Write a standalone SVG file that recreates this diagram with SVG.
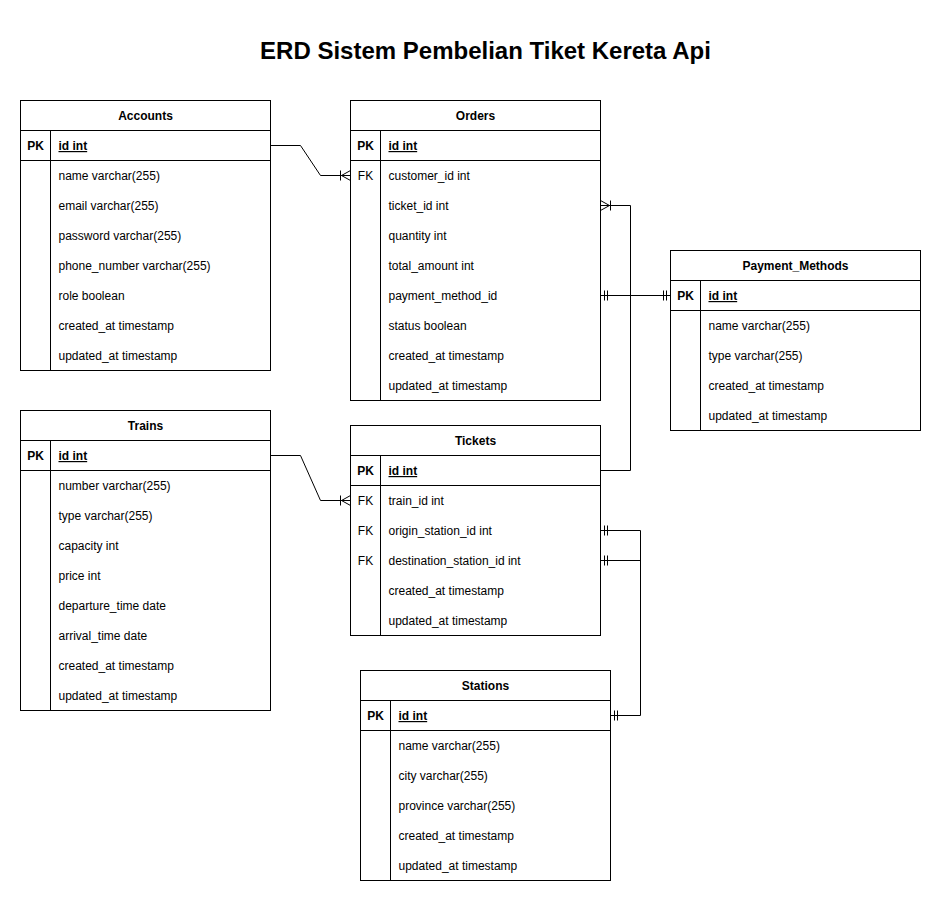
<svg xmlns="http://www.w3.org/2000/svg" width="941" height="901" viewBox="0 0 941 901">
<style>
.box{fill:#fff;stroke:#000;stroke-width:1}
.ln{stroke:#000;stroke-width:1;fill:none}
text{font-family:"Liberation Sans",Arial,Helvetica,sans-serif;font-size:12px;fill:#000}
.hd{font-weight:bold;text-anchor:middle}
.k{text-anchor:middle}
.pk{font-weight:bold;text-anchor:middle}
.id{font-weight:bold;text-decoration:underline}
.title{font-size:24px;font-weight:bold;text-anchor:middle}
.conn path{stroke:#000;stroke-width:1;fill:none}
</style>
<defs>
<marker id="many" viewBox="0 0 12 12" refX="12" refY="6" markerWidth="12" markerHeight="12" markerUnits="userSpaceOnUse" orient="auto-start-reverse">
<path d="M12,1 L3,6 L12,11 M2,1 L2,11" fill="none" stroke="#000" stroke-width="1"/>
</marker>
<marker id="one" viewBox="0 0 12 12" refX="12" refY="6" markerWidth="12" markerHeight="12" markerUnits="userSpaceOnUse" orient="auto-start-reverse">
<path d="M8,1 L8,11 M5,1 L5,11" fill="none" stroke="#000" stroke-width="1"/>
</marker>
</defs>
<rect width="941" height="901" fill="#fff"/>
<text class="title" x="485.5" y="59">ERD Sistem Pembelian Tiket Kereta Api</text>
<g transform="translate(0.5,0.5)">

<g id="accounts">
<rect class="box" x="20" y="100" width="250" height="270"/>
<path class="ln" d="M20,130 H270 M20,160 H270 M50,130 V370"/>
<text class="hd" x="145" y="119.5">Accounts</text>
<text class="pk" x="35" y="149.5">PK</text>
<text class="id" x="58" y="149.5">id int</text>
<text x="58" y="179.5">name varchar(255)</text>
<text x="58" y="209.5">email varchar(255)</text>
<text x="58" y="239.5">password varchar(255)</text>
<text x="58" y="269.5">phone_number varchar(255)</text>
<text x="58" y="299.5">role boolean</text>
<text x="58" y="329.5">created_at timestamp</text>
<text x="58" y="359.5">updated_at timestamp</text>
</g>

<g id="orders">
<rect class="box" x="350" y="100" width="250" height="300"/>
<path class="ln" d="M350,130 H600 M350,160 H600 M380,130 V400"/>
<text class="hd" x="475" y="119.5">Orders</text>
<text class="pk" x="365" y="149.5">PK</text>
<text class="id" x="388" y="149.5">id int</text>
<text class="k" x="365" y="179.5">FK</text>
<text x="388" y="179.5">customer_id int</text>
<text x="388" y="209.5">ticket_id int</text>
<text x="388" y="239.5">quantity int</text>
<text x="388" y="269.5">total_amount int</text>
<text x="388" y="299.5">payment_method_id</text>
<text x="388" y="329.5">status boolean</text>
<text x="388" y="359.5">created_at timestamp</text>
<text x="388" y="389.5">updated_at timestamp</text>
</g>

<g id="payment_methods">
<rect class="box" x="670" y="250" width="250" height="180"/>
<path class="ln" d="M670,280 H920 M670,310 H920 M700,280 V430"/>
<text class="hd" x="795" y="269.5">Payment_Methods</text>
<text class="pk" x="685" y="299.5">PK</text>
<text class="id" x="708" y="299.5">id int</text>
<text x="708" y="329.5">name varchar(255)</text>
<text x="708" y="359.5">type varchar(255)</text>
<text x="708" y="389.5">created_at timestamp</text>
<text x="708" y="419.5">updated_at timestamp</text>
</g>

<g id="trains">
<rect class="box" x="20" y="410" width="250" height="300"/>
<path class="ln" d="M20,440 H270 M20,470 H270 M50,440 V710"/>
<text class="hd" x="145" y="429.5">Trains</text>
<text class="pk" x="35" y="459.5">PK</text>
<text class="id" x="58" y="459.5">id int</text>
<text x="58" y="489.5">number varchar(255)</text>
<text x="58" y="519.5">type varchar(255)</text>
<text x="58" y="549.5">capacity int</text>
<text x="58" y="579.5">price int</text>
<text x="58" y="609.5">departure_time date</text>
<text x="58" y="639.5">arrival_time date</text>
<text x="58" y="669.5">created_at timestamp</text>
<text x="58" y="699.5">updated_at timestamp</text>
</g>

<g id="tickets">
<rect class="box" x="350" y="425" width="250" height="210"/>
<path class="ln" d="M350,455 H600 M350,485 H600 M380,455 V635"/>
<text class="hd" x="475" y="444.5">Tickets</text>
<text class="pk" x="365" y="474.5">PK</text>
<text class="id" x="388" y="474.5">id int</text>
<text class="k" x="365" y="504.5">FK</text>
<text x="388" y="504.5">train_id int</text>
<text class="k" x="365" y="534.5">FK</text>
<text x="388" y="534.5">origin_station_id int</text>
<text class="k" x="365" y="564.5">FK</text>
<text x="388" y="564.5">destination_station_id int</text>
<text x="388" y="594.5">created_at timestamp</text>
<text x="388" y="624.5">updated_at timestamp</text>
</g>

<g id="stations">
<rect class="box" x="360" y="670" width="250" height="210"/>
<path class="ln" d="M360,700 H610 M360,730 H610 M390,700 V880"/>
<text class="hd" x="485" y="689.5">Stations</text>
<text class="pk" x="375" y="719.5">PK</text>
<text class="id" x="398" y="719.5">id int</text>
<text x="398" y="749.5">name varchar(255)</text>
<text x="398" y="779.5">city varchar(255)</text>
<text x="398" y="809.5">province varchar(255)</text>
<text x="398" y="839.5">created_at timestamp</text>
<text x="398" y="869.5">updated_at timestamp</text>
</g>

<g id="connectors" class="conn">
<path d="M270,145 L300,145 L320,175 L350,175" marker-end="url(#many)"/>
<path d="M600,205 L630,205 L630,470 L600,470" marker-start="url(#many)"/>
<path d="M600,295 L670,295" marker-start="url(#one)" marker-end="url(#one)"/>
<path d="M270,455 L300,455 L320,500 L350,500" marker-end="url(#many)"/>
<path d="M600,530 L640,530 L640,715 L610,715" marker-start="url(#one)" marker-end="url(#one)"/>
<path d="M600,560 L640,560" marker-start="url(#one)"/>
</g>
</g>
</svg>
